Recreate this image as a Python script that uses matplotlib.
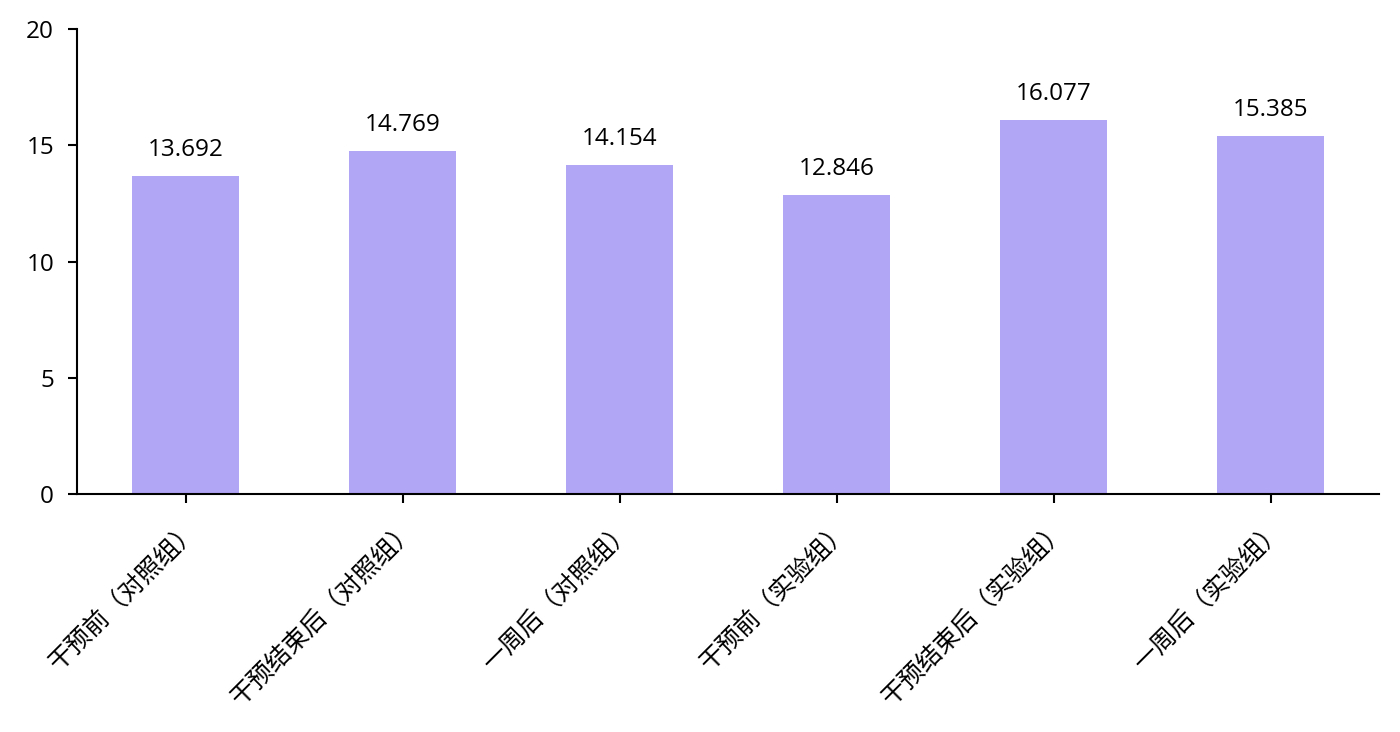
import matplotlib
matplotlib.use("Agg")
import matplotlib.pyplot as plt

categories = ["干预前（对照组）", "干预结束后（对照组）", "一周后（对照组）",
              "干预前（实验组）", "干预结束后（实验组）", "一周后（实验组）"]
values = [13.692, 14.769, 14.154, 12.846, 16.077, 15.385]
yticks = [0, 5, 10, 15, 20]

plt.rcParams['font.family'] = ['Open Sans', 'Noto Sans CJK SC', 'DejaVu Sans']

fig = plt.figure(figsize=(14, 7.32), dpi=100)
ax = fig.add_axes([0.055, 0.325, 0.930, 0.6354])

x = list(range(len(categories)))
bars = ax.bar(x, values, width=0.49, color="#B1A5F6")
for xi, v in zip(x, values):
    ax.annotate(f"{v:.3f}", (xi, v), xytext=(0, 10), textcoords="offset points",
                ha="center", va="bottom", fontsize=17.5)

ax.set_xlim(-0.5, len(categories) - 0.5)
ax.set_ylim(0, 20)
ax.set_yticks(yticks)
ax.set_yticklabels([str(t) for t in yticks], fontsize=17.5)
ax.set_xticks(x)
ax.set_xticklabels(categories, rotation=45, ha="right", rotation_mode="anchor",
                   fontsize=18, family=['Noto Sans CJK SC', 'DejaVu Sans'])
for s in ["top", "right"]:
    ax.spines[s].set_visible(False)
for s in ["left", "bottom"]:
    ax.spines[s].set_linewidth(1.5)
ax.tick_params(axis="both", width=1.5, length=6.5, color="black")
ax.tick_params(axis="y", pad=10)
ax.tick_params(axis="x", pad=9)

fig.savefig("out.png", dpi=100)
